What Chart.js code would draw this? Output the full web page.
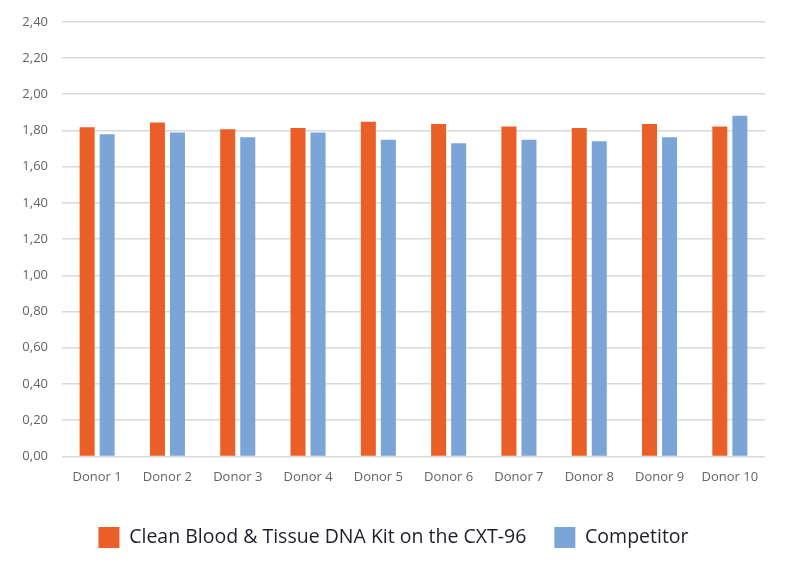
<!DOCTYPE html>
<html>
<head>
<meta charset="utf-8">
<script src="https://cdn.jsdelivr.net/npm/chart.js@4/dist/chart.umd.min.js"></script>
<style>
  html, body { margin: 0; padding: 0; background: #fff; }
  #wrap { width: 795px; height: 565px; }
</style>
</head>
<body>
<div id="wrap"><canvas id="chart" width="795" height="565"></canvas></div>
<script>
const donors = ['Donor 1', 'Donor 2', 'Donor 3', 'Donor 4', 'Donor 5', 'Donor 6', 'Donor 7', 'Donor 8', 'Donor 9', 'Donor 10'];
const cleanKit = [1.818, 1.844, 1.807, 1.813, 1.848, 1.835, 1.822, 1.813, 1.835, 1.822];
const competitor = [1.779, 1.789, 1.763, 1.789, 1.748, 1.729, 1.748, 1.741, 1.763, 1.881];
const yTicks = [0, 0.2, 0.4, 0.6, 0.8, 1.0, 1.2, 1.4, 1.6, 1.8, 2.0, 2.2, 2.4];

const ctx = document.getElementById('chart').getContext('2d');
new Chart(ctx, {
  type: 'bar',
  data: {
    labels: donors,
    datasets: [
      {
        label: 'Clean Blood & Tissue DNA Kit on the CXT-96',
        data: cleanKit,
        backgroundColor: '#E95F27',
        categoryPercentage: 0.57,
        barPercentage: 0.75
      },
      {
        label: 'Competitor',
        data: competitor,
        backgroundColor: '#7BA5D7',
        categoryPercentage: 0.57,
        barPercentage: 0.75
      }
    ]
  },
  options: {
    responsive: false,
    animation: false,
    layout: { padding: { top: 15, right: 8, left: 0, bottom: 7 } },
    plugins: {
      tooltip: { enabled: false },
      legend: {
        position: 'bottom',
        labels: {
          boxWidth: 21,
          boxHeight: 21,
          padding: 28,
          color: '#1E1E2C',
          font: { family: 'Open Sans', size: 19.5 }
        }
      }
    },
    scales: {
      x: {
        grid: { display: false },
        border: { display: false },
        afterFit: (scale) => { scale.height += 9; },
        ticks: {
          color: '#646464',
          padding: 5,
          font: { family: 'Open Sans', size: 13 }
        }
      },
      y: {
        min: 0,
        max: 2.4,
        afterBuildTicks: (scale) => { scale.ticks = yTicks.map(v => ({ value: v })); },
        afterFit: (scale) => { scale.width = 62; },
        border: { display: false },
        grid: { color: '#D9D9D9', lineWidth: 1.5, drawTicks: false },
        ticks: {
          color: '#646464',
          padding: 14,
          font: { family: 'Open Sans', size: 13 },
          callback: (v) => Number(v).toFixed(2).replace('.', ',')
        }
      },
      // empty right-hand spacer so the legend centres like the original
      spacer: {
        position: 'right',
        grid: { display: false },
        border: { display: false },
        ticks: { display: false },
        afterFit: (scale) => { scale.width = 22; }
      }
    }
  }
});
</script>
</body>
</html>
